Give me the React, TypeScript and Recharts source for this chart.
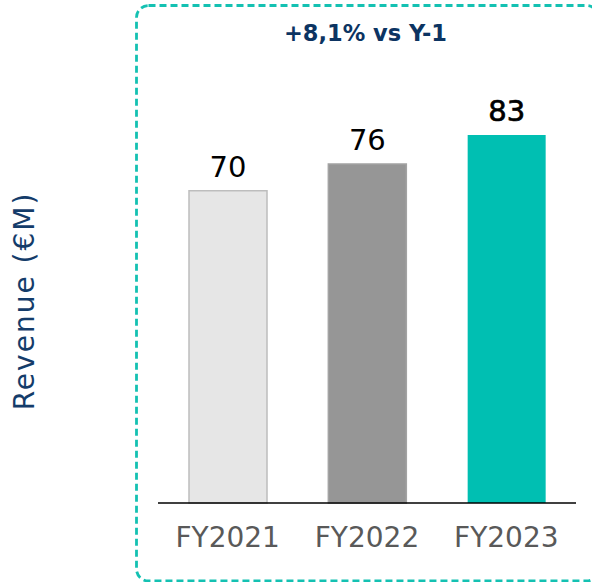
import React from "react";
import { BarChart, Bar, XAxis, YAxis, Cell, LabelList } from "recharts";

const categories = ["FY2021", "FY2022", "FY2023"];
const revenue = [70, 76, 82.5];
const titleText = "+8,1% vs Y-1";
const yLabelText = "Revenue (€M)";

const barFills = ["#e6e6e6", "#969696", "#00bfb2"];
const barStrokes = ["#bdbdbd", "#a3a3a3", "none"];

const data = categories.map((c, i) => ({ name: c, value: revenue[i] }));

const FONT = "'DejaVu Sans', sans-serif";

const ValueLabel = (props: any) => {
  const { x, y, width, value, index } = props;
  const last = index === categories.length - 1;
  return (
    <text
      x={x + width / 2}
      y={y - 14}
      textAnchor="middle"
      fontFamily={FONT}
      fontSize={29}
      fill="#000"
      stroke={last ? "#000" : "none"}
      strokeWidth={last ? 0.7 : 0}
    >
      {Math.round(value)}
    </text>
  );
};

export default function App() {
  return (
    <div style={{ position: "absolute", left: 0, top: 0, width: 592, height: 582, background: "#fff" }}>
      <BarChart
        width={592}
        height={582}
        data={data}
        margin={{ top: 57, right: 16, bottom: 0, left: 0 }}
        barCategoryGap="22%"
      >
        <YAxis type="number" domain={[0, 100]} width={158} tick={false} axisLine={false} tickLine={false} />
        <XAxis
          dataKey="name"
          height={79}
          axisLine={{ stroke: "#000", strokeWidth: 1.6 }}
          tickLine={false}
          tickMargin={18}
          tick={{ fontFamily: FONT, fontSize: 28, fill: "#595959" }}
          interval={0}
        />
        <Bar dataKey="value" barSize={78} isAnimationActive={false} strokeWidth={1.5}>
          {data.map((d, i) => (
            <Cell key={d.name} fill={barFills[i]} stroke={barStrokes[i]} />
          ))}
          <LabelList dataKey="value" content={ValueLabel} />
        </Bar>
      </BarChart>
      <svg
        width={592}
        height={582}
        style={{ position: "absolute", left: 0, top: 0, pointerEvents: "none" }}
      >
        <rect
          x={136.5}
          y={5.5}
          width={462}
          height={575.5}
          rx={12}
          ry={12}
          fill="none"
          stroke="#14c1b2"
          strokeWidth={2.8}
          strokeDasharray="7 4"
        />
        <text
          x={365.5}
          y={40.5}
          textAnchor="middle"
          fontFamily={FONT}
          fontWeight="bold"
          fontSize={22.5}
          fill="#0c3462"
        >
          {titleText}
        </text>
        <text
          x={0}
          y={0}
          transform="translate(33.5 301) rotate(-90)"
          textAnchor="middle"
          fontFamily={FONT}
          fontSize={28}
          letterSpacing={2}
          fill="#143c6a"
        >
          {yLabelText}
        </text>
      </svg>
    </div>
  );
}
